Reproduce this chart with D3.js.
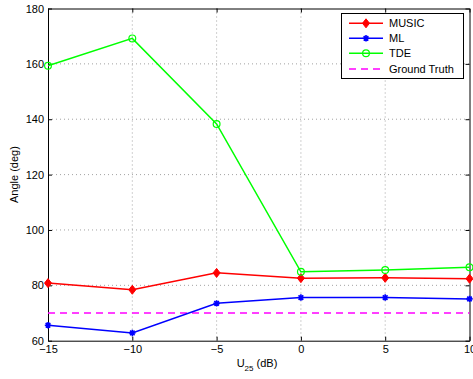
<!DOCTYPE html>
<html>
<head>
<meta charset="utf-8">
<script src="https://cdn.jsdelivr.net/npm/d3@7"></script>
<style>
  html, body { margin: 0; padding: 0; background: #fff; }
  svg { display: block; font-family: "Liberation Sans", Arial, sans-serif; }
</style>
</head>
<body>
<svg id="chart" width="473" height="379"></svg>
<script>
// Input SNR (dB) on the x axis
const snr = [-15, -10, -5, 0, 5, 10];
// Estimated angle (deg) per method
const music = [80.8, 78.4, 84.5, 82.6, 82.7, 82.4];
const ml = [65.6, 62.8, 73.5, 75.6, 75.6, 75.1];
const tde = [159.3, 169.2, 138.3, 84.9, 85.5, 86.5];
const groundTruth = 70;
const xTicks = [-15, -10, -5, 0, 5, 10];
const yTicks = [60, 80, 100, 120, 140, 160, 180];
const seriesNames = ["MUSIC", "ML", "TDE", "Ground Truth"];

const svg = d3.select("#chart");
const plotL = 48, plotR = 469.5, plotT = 8.5, plotB = 340.7;

const x = d3.scaleLinear().domain([-15, 10]).range([plotL, plotR]);
const y = d3.scaleLinear().domain([60, 180]).range([plotB, plotT]);

// Dotted grid
const grid = svg.append("g").attr("stroke", "#8a8a8a").attr("stroke-width", 0.8)
  .attr("stroke-dasharray", "1,3");
grid.selectAll(".gx").data(xTicks.slice(1, -1)).join("line")
  .attr("x1", d => x(d)).attr("x2", d => x(d)).attr("y1", plotT).attr("y2", plotB);
grid.selectAll(".gy").data(yTicks.slice(1, -1)).join("line")
  .attr("y1", d => y(d)).attr("y2", d => y(d)).attr("x1", plotL).attr("x2", plotR);

// Axes with inward ticks, mirrored on top and right
function styleAxis(g) {
  g.select(".domain").attr("stroke", "#000").attr("stroke-width", 1);
  g.selectAll(".tick line").attr("stroke", "#000").attr("stroke-width", 1);
  g.selectAll("text").attr("fill", "#000").attr("font-size", 11)
    .attr("font-family", "'Liberation Sans', Arial, sans-serif");
}
svg.append("g").attr("transform", `translate(0,${plotB})`)
  .call(d3.axisBottom(x).tickValues(xTicks).tickSizeInner(-4).tickSizeOuter(0).tickPadding(5).tickFormat(d3.format("d")))
  .call(styleAxis);
svg.append("g").attr("transform", `translate(0,${plotT})`)
  .call(d3.axisTop(x).tickValues(xTicks).tickSizeInner(-4).tickSizeOuter(0).tickFormat(""))
  .call(styleAxis);
svg.append("g").attr("transform", `translate(${plotL},0)`)
  .call(d3.axisLeft(y).tickValues(yTicks).tickSizeInner(-4).tickSizeOuter(0).tickPadding(4))
  .call(styleAxis);
svg.append("g").attr("transform", `translate(${plotR},0)`)
  .call(d3.axisRight(y).tickValues(yTicks).tickSizeInner(-4).tickSizeOuter(0).tickFormat(""))
  .call(styleAxis);

// Axis titles
svg.append("text")
  .attr("transform", `translate(18,${(plotT + plotB) / 2}) rotate(-90)`)
  .attr("text-anchor", "middle").attr("font-size", 11).text("Angle (deg)");
const xl = svg.append("text").attr("x", 257).attr("y", 367)
  .attr("text-anchor", "middle").attr("font-size", 11);
xl.append("tspan").text("U");
xl.append("tspan").attr("font-size", 8).attr("dy", 4).text("25");
xl.append("tspan").attr("dy", -4).text(" (dB)");

// Marker shapes
function diamond(g, cx, cy, color) {
  g.append("path").attr("d", `M${cx},${cy - 4.5}L${cx + 3.5},${cy}L${cx},${cy + 4.5}L${cx - 3.5},${cy}Z`)
    .attr("fill", color).attr("stroke", color).attr("stroke-width", 1);
}
function asterisk(g, cx, cy, color) {
  const r = 3.2;
  let d = `M${cx - r},${cy}L${cx + r},${cy}M${cx},${cy - r}L${cx},${cy + r}`;
  const k = r * 0.72;
  d += `M${cx - k},${cy - k}L${cx + k},${cy + k}M${cx - k},${cy + k}L${cx + k},${cy - k}`;
  g.append("path").attr("d", d).attr("stroke", color).attr("stroke-width", 1.6).attr("fill", "none");
}
function circle(g, cx, cy, color) {
  g.append("circle").attr("cx", cx).attr("cy", cy).attr("r", 3.4)
    .attr("fill", "none").attr("stroke", color).attr("stroke-width", 1.2);
}

const line = d3.line().x(d => x(d[0])).y(d => y(d[1]));
const series = [
  { vals: music, color: "#ff0000", marker: diamond },
  { vals: ml, color: "#0000ff", marker: asterisk },
  { vals: tde, color: "#00ff00", marker: circle }
];

// Ground truth reference line
svg.append("line")
  .attr("x1", x(-15)).attr("x2", x(10)).attr("y1", y(groundTruth)).attr("y2", y(groundTruth))
  .attr("stroke", "#ff00ff").attr("stroke-width", 1.4).attr("stroke-dasharray", "7,5");

series.forEach(s => {
  const pts = snr.map((v, i) => [v, s.vals[i]]);
  svg.append("path").datum(pts).attr("d", line)
    .attr("fill", "none").attr("stroke", s.color).attr("stroke-width", 1.5);
  const g = svg.append("g");
  pts.forEach(p => s.marker(g, x(p[0]), y(p[1]), s.color));
});

// Legend
const lg = svg.append("g");
lg.append("rect").attr("x", 341.5).attr("y", 13.5).attr("width", 122).attr("height", 65)
  .attr("fill", "#fff").attr("stroke", "#000").attr("stroke-width", 1);
const rowsY = [23.3, 38.3, 53.3, 69];
const lx1 = 349, lx2 = 383;
seriesNames.forEach((name, i) => {
  const yy = rowsY[i];
  if (i < 3) {
    const s = series[i];
    lg.append("line").attr("x1", lx1).attr("x2", lx2).attr("y1", yy).attr("y2", yy)
      .attr("stroke", s.color).attr("stroke-width", 1.5);
    s.marker(lg, (lx1 + lx2) / 2, yy, s.color);
  } else {
    lg.append("line").attr("x1", lx1).attr("x2", lx2).attr("y1", yy).attr("y2", yy)
      .attr("stroke", "#ff00ff").attr("stroke-width", 1.4).attr("stroke-dasharray", "7,5");
  }
  lg.append("text").attr("x", 389).attr("y", yy + 4).attr("font-size", 11).text(name);
});
</script>
</body>
</html>
